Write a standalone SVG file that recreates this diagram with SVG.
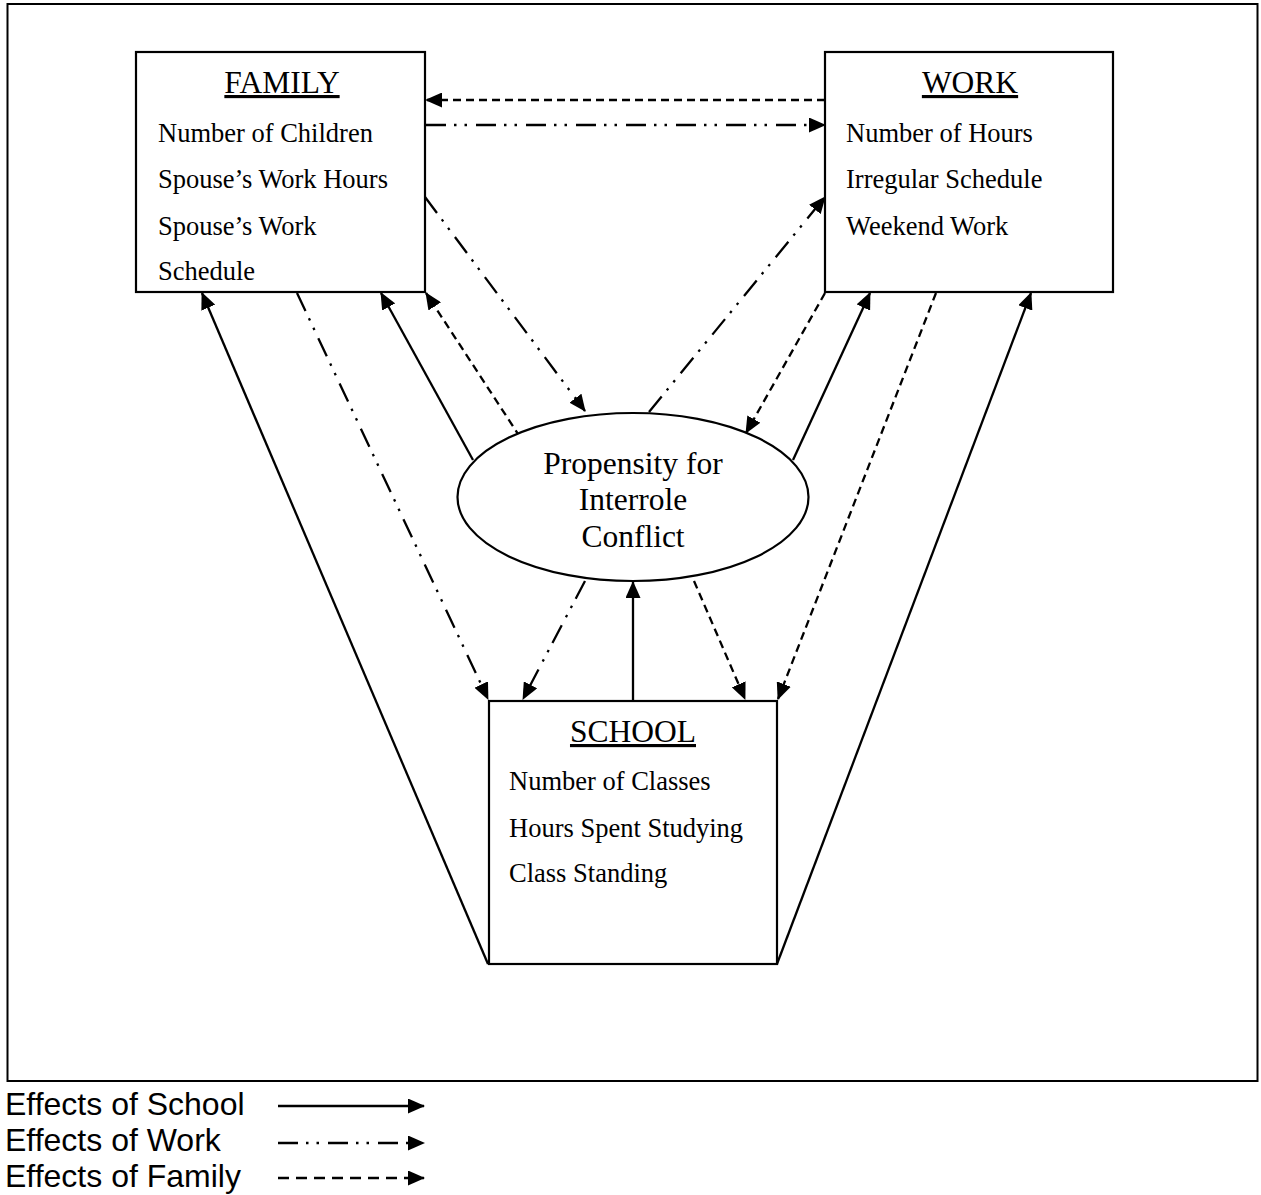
<svg xmlns="http://www.w3.org/2000/svg" width="1261" height="1195" viewBox="0 0 1261 1195">
<defs>
<marker id="ah" markerUnits="userSpaceOnUse" markerWidth="17" markerHeight="15" refX="16" refY="7.5" orient="auto">
<path d="M0,0 L17,7.5 L0,15 z" fill="#000"/>
</marker>
<style>
.box{fill:#fff;stroke:#000;stroke-width:2.2}
.title{font-family:"Liberation Serif","Times New Roman",serif;font-size:31.5px;text-anchor:middle;text-decoration:underline}
.item{font-family:"Liberation Serif","Times New Roman",serif;font-size:26.5px}
.etext{font-family:"Liberation Serif","Times New Roman",serif;font-size:31.5px;text-anchor:middle}
.leg{font-family:"Liberation Sans",Arial,sans-serif;font-size:32px}
.c{fill:none;stroke:#000;stroke-width:2.3;marker-end:url(#ah)}
.school{}
.work{stroke-dasharray:20 8 2.5 8 2.5 9}
.family{stroke-dasharray:8 5}
.legfam{stroke-dasharray:11 7}
</style>
</defs>
<rect x="7.5" y="4" width="1250" height="1077" fill="#fff" stroke="#000" stroke-width="2"/>

<g id="connectors">
<path class="c family" d="M825,100 L426,100"/>
<path class="c work" d="M426,125 L825,125"/>
<path class="c work" d="M425,197 L585,411"/>
<path class="c work" d="M649,412 L825,197"/>
<path class="c school" d="M473,460 L381,293"/>
<path class="c family" d="M520,437 L426,293"/>
<path class="c school" d="M488,964 L202,293"/>
<path class="c work" d="M297,293 L488,699"/>
<path class="c work" d="M585,581 L523,699"/>
<path class="c school" d="M633,700 L633,582"/>
<path class="c family" d="M694,581 L745,699"/>
<path class="c family" d="M936,293 L778,699"/>
<path class="c school" d="M777,964 L1031,293"/>
<path class="c school" d="M793,460 L870,293"/>
<path class="c family" d="M825,293 L746,433"/>
</g>

<g id="family">
<rect class="box" x="136" y="52" width="289" height="240"/>
<text class="title" x="282" y="93">FAMILY</text>
<text class="item" x="158" y="142">Number of Children</text>
<text class="item" x="158" y="188">Spouse’s Work Hours</text>
<text class="item" x="158" y="235">Spouse’s Work</text>
<text class="item" x="158" y="280">Schedule</text>
</g>

<g id="work">
<rect class="box" x="825" y="52" width="288" height="240"/>
<text class="title" x="970" y="93">WORK</text>
<text class="item" x="846" y="142">Number of Hours</text>
<text class="item" x="846" y="188">Irregular Schedule</text>
<text class="item" x="846" y="235">Weekend Work</text>
</g>

<g id="school">
<rect class="box" x="489" y="701" width="288" height="263"/>
<text class="title" x="633" y="742">SCHOOL</text>
<text class="item" x="509" y="790">Number of Classes</text>
<text class="item" x="509" y="837">Hours Spent Studying</text>
<text class="item" x="509" y="882">Class Standing</text>
</g>

<g id="conflict">
<ellipse cx="633" cy="497" rx="175.5" ry="84" fill="#fff" stroke="#000" stroke-width="2.2"/>
<text class="etext" x="633" y="474">Propensity for</text>
<text class="etext" x="633" y="510">Interrole</text>
<text class="etext" x="633" y="547">Conflict</text>
</g>

<g id="legend">
<text class="leg" x="5" y="1115">Effects of School</text>
<text class="leg" x="5" y="1151">Effects of Work</text>
<text class="leg" x="5" y="1187">Effects of Family</text>
<path class="c school" d="M278,1106 L424,1106"/>
<path class="c work" d="M278,1143 L424,1143"/>
<path class="c legfam" d="M278,1178 L424,1178"/>
</g>
</svg>
